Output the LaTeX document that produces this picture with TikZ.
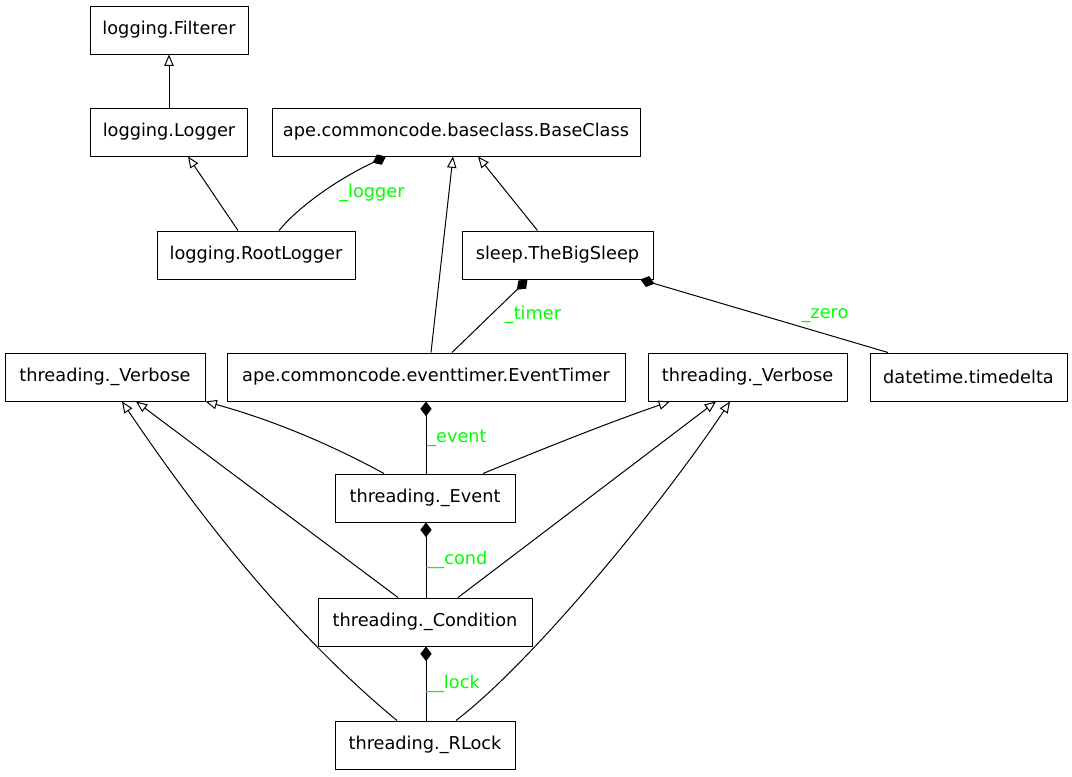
\documentclass[tikz,border=0pt]{standalone}
\usepackage{fontspec}
\setmainfont{DejaVu Sans}
\usetikzlibrary{arrows.meta,calc}

\tikzset{
  cls/.style={draw, line width=0.75pt, minimum height=36pt, inner sep=0pt, font=\fontsize{13.3}{16}\selectfont},
  role/.style={text=green, inner sep=0.75pt, font=\fontsize{13.3}{16}\selectfont},
  inherit/.style={line width=0.75pt, -{Triangle[open,length=8.5pt,width=7pt]}},
  owns/.style={line width=0.75pt, {Diamond[length=11pt,width=8.5pt]}-},
}

\begin{document}
\begin{tikzpicture}[x=0.75pt,y=0.75pt,yscale=-1,xscale=1]
        \useasboundingbox (0,0) rectangle (1072,776);

        %Shape: Rectangle
        \node [cls, minimum width=118.5pt] (filterer) at (169,30) {logging.Filterer};
        \node [cls, minimum width=117.75pt] (logger) at (169,132) {logging.Logger};
        \node [cls, minimum width=276pt] (baseclass) at (456,132) {ape.commoncode.baseclass.BaseClass};
        \node [cls, minimum width=148.5pt] (rootlogger) at (256,255) {logging.RootLogger};
        \node [cls, minimum width=143.25pt] (bigsleep) at (557.5,255) {sleep.TheBigSleep};
        \node [cls, minimum width=150pt] (verboseA) at (105,377) {threading.\_Verbose};
        \node [cls, minimum width=298.5pt] (eventtimer) at (426,377) {ape.commoncode.eventtimer.EventTimer};
        \node [cls, minimum width=149.25pt] (verboseB) at (747.5,377) {threading.\_Verbose};
        \node [cls, minimum width=147.75pt] (timedelta) at (968.5,377) {datetime.timedelta};
        \node [cls, minimum width=135pt] (event) at (425,498) {threading.\_Event};
        \node [cls, minimum width=160.5pt] (condition) at (425,622) {threading.\_Condition};
        \node [cls, minimum width=135pt] (rlock) at (425,745) {threading.\_RLock};

        %Straight Lines
        \draw [inherit] (logger.north) -- (filterer.south);
        \draw [inherit] ($(rootlogger.north)+(-18,0)$) -- ($(logger.south)+(19,0)$);
        \draw [inherit] ($(eventtimer.north)+(5,0)$) -- ($(baseclass.south)+(-3,0)$);
        \draw [inherit] ($(bigsleep.north)+(-20,0)$) -- ($(baseclass.south)+(22,0)$);
        \draw [inherit] ($(condition.north)+(-27,0)$) -- ($(verboseA.south)+(31,0)$);
        \draw [inherit] ($(condition.north)+(33,0)$) -- ($(verboseB.south)+(-31.5,0)$);
        %Curves
        \draw [inherit] ($(event.north)+(-41,0)$) .. controls (350,455) and (290,425) .. (verboseA.south east);
        \draw [inherit] ($(event.north)+(58,0)$) .. controls (540,450) and (610,422) .. ($(verboseB.south)+(-77.5,0)$);
        \draw [inherit] ($(rlock.north)+(-28,0)$) .. controls (289,631) and (200,517) .. ($(verboseA.south)+(17,0)$);
        \draw [inherit] ($(rlock.north)+(31,0)$) .. controls (535,660) and (664,501) .. ($(verboseB.south)+(-17.5,0)$);

        %Composition
        \draw [owns] ($(baseclass.south)+(-70,0)$) .. controls (340,178) and (300,205) .. ($(rootlogger.north)+(23,0)$);
        \draw [owns] ($(bigsleep.south)+(-30,0)$) -- ($(eventtimer.north)+(26,0)$);
        \draw [owns] ($(bigsleep.south)+(83,0)$) -- ($(timedelta.north)+(-80.5,0)$);
        \draw [owns] (eventtimer.south) -- (event.north -| eventtimer.south);
        \draw [owns] (event.south -| eventtimer.south) -- (condition.north -| eventtimer.south);
        \draw [owns] (condition.south -| eventtimer.south) -- (rlock.north -| eventtimer.south);

        % Text Node
        \node [role] (lbllogger) at (372,193) {\_logger};
        % Text Node
        \node [role] (lbltimer) at (533,315) {\_timer};
        % Text Node
        \node [role] (lblzero) at (825,316) {\_zero};
        % Text Node
        \node [role] (lblevent) at (457,438) {\_event};
        % Text Node
        \node [role] (lblcond) at (457,560) {\_\_cond};
        % Text Node
        \node [role] (lbllock) at (453,684) {\_\_lock};

\end{tikzpicture}
\end{document}
